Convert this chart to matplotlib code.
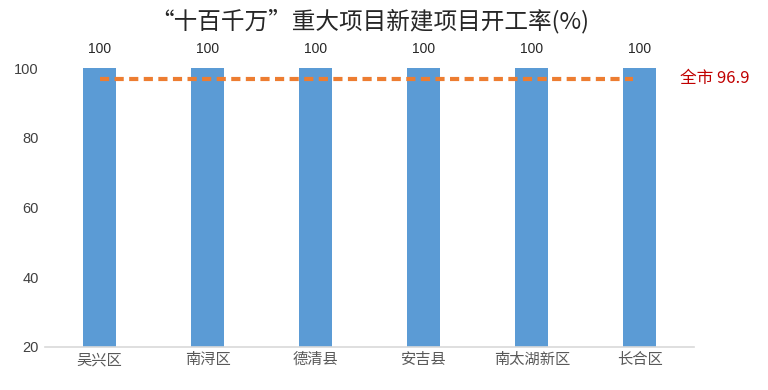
import matplotlib
matplotlib.use("Agg")
import matplotlib.pyplot as plt

categories = ["吴兴区", "南浔区", "德清县", "安吉县", "南太湖新区", "长合区"]
values = [100, 100, 100, 100, 100, 100]
city_avg = 96.9
yticks = [20, 40, 60, 80, 100]
title = "“十百千万”重大项目新建项目开工率(%)"

plt.rcParams['font.family'] = ['Noto Sans CJK SC', 'DejaVu Sans']

fig = plt.figure(figsize=(7.68, 3.9), dpi=100)
ax = fig.add_axes([45.5/768, 43/390, (694-45.5)/768, (347-68)/390])

x = list(range(len(categories)))
ax.bar(x, values, width=0.305, color="#5B9BD5", zorder=2)
for xi, v in zip(x, values):
    ax.text(xi, v + 3.3, f"{v:g}", ha="center", va="bottom", fontsize=10,
            color="#262626", family=["Liberation Sans"])

ax.plot([x[0], x[-1] - 0.065], [city_avg, city_avg], color="#ED7D31", lw=3,
        dashes=(2.2, 1.3), zorder=3)
ax.text(x[-1] + 0.37, city_avg, f"全市 {city_avg:g}", ha="left", va="center",
        fontsize=12, color="#C00000")

ax.set_xlim(-0.5, len(categories) - 0.5)
ax.set_ylim(20, 100)
ax.set_yticks(yticks)
ax.set_yticklabels([str(t) for t in yticks], family="Liberation Sans", fontsize=10.5,
                   color="#404040")
ax.set_xticks(x)
ax.set_xticklabels(categories, fontsize=11, color="#595959")
ax.tick_params(axis="both", length=0)
ax.tick_params(axis="y", pad=5)
ax.tick_params(axis="x", pad=3)
for s in ["top", "right", "left"]:
    ax.spines[s].set_visible(False)
ax.spines["bottom"].set_color("#D9D9D9")
ax.spines["bottom"].set_linewidth(1.2)

fig.text(370/768, 0.945, title, ha="center", va="center", fontsize=17, color="#262626")

fig.savefig("out.png", dpi=100)
